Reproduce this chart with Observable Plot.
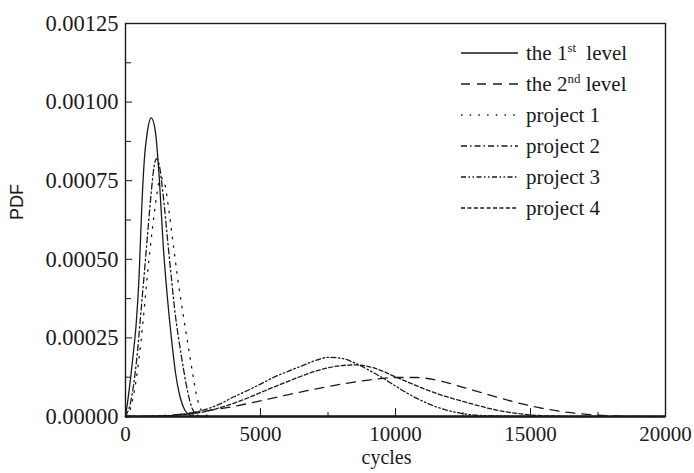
<!DOCTYPE html>
<html><head><meta charset="utf-8">
<script src="https://cdn.jsdelivr.net/npm/d3@7"></script>
<script src="https://cdn.jsdelivr.net/npm/@observablehq/plot@0.6"></script>
<style>body{margin:0;background:#fff}</style>
</head><body><div id="chart"></div>
<script>
// ---- data ----
const level1Cycles = [0, 100, 200, 300, 400, 500, 600, 700, 800, 950, 1100, 1250, 1400, 1550, 1700, 1850, 2000, 2200, 2400, 2600, 3000];
const level1Pdf    = [0, 0.00006, 0.00013, 0.00021, 0.0003, 0.00044, 0.00066, 0.00082, 0.0009, 0.00095, 0.00091, 0.00076, 0.00054, 0.00038, 0.00025, 0.00014, 0.00007, 0.00002, 0.000004, 0, 0];

const level2Cycles = [0, 1000, 2000, 3000, 4000, 5000, 6000, 7000, 8000, 9000, 10000, 10800, 11500, 12500, 13500, 14500, 15500, 16500, 17500, 18500, 19500];
const level2Pdf    = [0, 0.000001, 0.000007, 0.000018, 0.000032, 0.00005, 0.000069, 0.000087, 0.000103, 0.000116, 0.000124, 0.000124, 0.000116, 0.000093, 0.000068, 0.000044, 0.000025, 0.000012, 0.000004, 0.000001, 0];

const project1Cycles = [0, 200, 400, 600, 800, 1000, 1150, 1300, 1450, 1600, 1750, 1900, 2050, 2200, 2350, 2500, 2650, 2800, 3000, 3300];
const project1Pdf    = [0, 0.00003, 0.00012, 0.00026, 0.00044, 0.0006, 0.0007, 0.00076, 0.00074, 0.00066, 0.00056, 0.00046, 0.00037, 0.00029, 0.00021, 0.00013, 0.00006, 0.00002, 0.000004, 0];

const project2Cycles = [0, 200, 400, 600, 800, 950, 1050, 1150, 1250, 1400, 1550, 1700, 1850, 2000, 2150, 2300, 2450, 2600, 2800];
const project2Pdf    = [0, 0.00005, 0.00017, 0.00036, 0.00056, 0.00071, 0.00079, 0.00082, 0.0008, 0.0007, 0.00057, 0.00044, 0.00032, 0.00023, 0.00015, 0.00008, 0.00003, 0.000008, 0];

const project3Cycles = [0, 1000, 2000, 2800, 3500, 4000, 4500, 5000, 5500, 6000, 6500, 7000, 7500, 8000, 8500, 9000, 9500, 10000, 10500, 11000, 11500, 12000, 12500, 13000, 14000, 15000];
const project3Pdf    = [0, 0.000001, 0.000006, 0.000018, 0.00004, 0.000062, 0.000082, 0.000103, 0.000125, 0.000143, 0.00016, 0.000177, 0.000188, 0.000185, 0.00017, 0.000148, 0.000124, 0.000097, 0.000071, 0.000049, 0.000031, 0.000018, 0.000009, 0.000004, 0.000001, 0];

const project4Cycles = [0, 1000, 2000, 2800, 3500, 4000, 4500, 5000, 5500, 6000, 6500, 7000, 7500, 8000, 8500, 9000, 9500, 10000, 10500, 11000, 11500, 12000, 12500, 13000, 13500, 14000, 14500, 15000, 16000, 17000];
const project4Pdf    = [0, 0.000001, 0.000005, 0.000013, 0.000028, 0.000042, 0.000058, 0.000076, 0.000094, 0.000111, 0.000128, 0.000143, 0.000155, 0.000162, 0.000164, 0.000159, 0.000145, 0.000126, 0.000108, 0.00009, 0.000074, 0.00006, 0.000048, 0.000036, 0.000025, 0.000016, 0.00001, 0.000005, 0.000001, 0];

const seriesKeys = ["level1", "level2", "project1", "project2", "project3", "project4"];
const xMajorTicks = [0, 5000, 10000, 15000, 20000];
const xMinorTicks = [2500, 7500, 12500, 17500];
const yMajorTicks = [0, 0.00025, 0.0005, 0.00075, 0.001, 0.00125];
const yMinorTicks = [0.000125, 0.000375, 0.000625, 0.000875, 0.001125];

// ---- styles ----
const ink = "#1a1a1a";
const serif = "'Liberation Serif', 'Times New Roman', serif";
const dashes = {
  level1: null,
  level2: "9,7",
  project1: "1.5,7.2",
  project2: "6,3,1.5,3",
  project3: "5,2.5,1.5,2.5,1.5,2.5",
  project4: "4,2.4"
};
const sources = {
  level1: [level1Cycles, level1Pdf],
  level2: [level2Cycles, level2Pdf],
  project1: [project1Cycles, project1Pdf],
  project2: [project2Cycles, project2Pdf],
  project3: [project3Cycles, project3Pdf],
  project4: [project4Cycles, project4Pdf]
};
const rows = seriesKeys.flatMap(k => sources[k][0].map((c, i) => ({series: k, cycles: c, pdf: sources[k][1][i]})));

const lineMarks = seriesKeys.map(k => Plot.line(rows.filter(d => d.series === k), {
  x: "cycles", y: "pdf", curve: "monotone-x", stroke: ink, strokeWidth: 1.3,
  strokeDasharray: dashes[k]
}));

const chart = Plot.plot({
  width: 694, height: 473,
  marginLeft: 125, marginRight: 29, marginTop: 23, marginBottom: 57,
  style: {background: "#fff", color: ink},
  x: {domain: [0, 20000]},
  y: {domain: [0, 0.00125]},
  marks: [
    ...lineMarks,
    Plot.frame({stroke: ink, strokeWidth: 1.4}),
    Plot.ruleY([0], {stroke: ink, strokeWidth: 2.6}),
    Plot.axisX({ticks: xMajorTicks, tickSize: -8, tickPadding: 18, tickFormat: d3.format("d"),
      fontSize: 21, fontFamily: serif, label: null, stroke: ink}),
    Plot.axisX({ticks: xMinorTicks, tickSize: -4, tickFormat: () => "", label: null, stroke: ink}),
    Plot.axisY({ticks: yMajorTicks, tickSize: -7, tickPadding: 14, tickFormat: d3.format(".5f"),
      fontSize: 22.5, fontFamily: serif, label: null, stroke: ink}),
    Plot.axisY({ticks: yMinorTicks, tickSize: -6, tickFormat: () => "", label: null, stroke: ink}),
    Plot.text(["PDF"], {frameAnchor: "left", dx: -108, rotate: -90, fontSize: 18,
      fontFamily: "'Liberation Sans', Arial, sans-serif", fill: ink}),
    Plot.text(["cycles"], {frameAnchor: "bottom", dx: -9, dy: 47, fontSize: 20,
      fontFamily: serif, fill: ink})
  ]
});
document.getElementById("chart").appendChild(chart);

// ---- legend (inside the frame, top right) ----
const legendParts = {
  level1: [["the 1", 0], ["st", 1], [" level", 2]],
  level2: [["the 2", 0], ["nd", 1], [" level", 0]],
  project1: [["project 1", 0]],
  project2: [["project 2", 0]],
  project3: [["project 3", 0]],
  project4: [["project 4", 0]]
};
const lg = d3.select(chart).append("g")
  .attr("font-family", serif).attr("font-size", 21).attr("fill", ink)
  .attr("text-anchor", "start");
seriesKeys.forEach((k, i) => {
  const y = 53 + i * 31;
  lg.append("line").attr("x1", 461).attr("x2", 518).attr("y1", y).attr("y2", y)
    .attr("stroke", ink).attr("stroke-width", 1.3)
    .attr("stroke-dasharray", dashes[k]);
  const t = lg.append("text").attr("x", 526).attr("y", y + 7).attr("text-anchor", "start");
  let raised = false;
  legendParts[k].forEach(([s, mode]) => {
    const ts = t.append("tspan").text(s);
    if (mode === 1) { ts.attr("font-size", 13).attr("dy", -8); raised = true; }
    else if (raised) { ts.attr("dy", 8); raised = false; if (mode === 2) ts.attr("dx", 5); }
  });
});
</script>
</body></html>
